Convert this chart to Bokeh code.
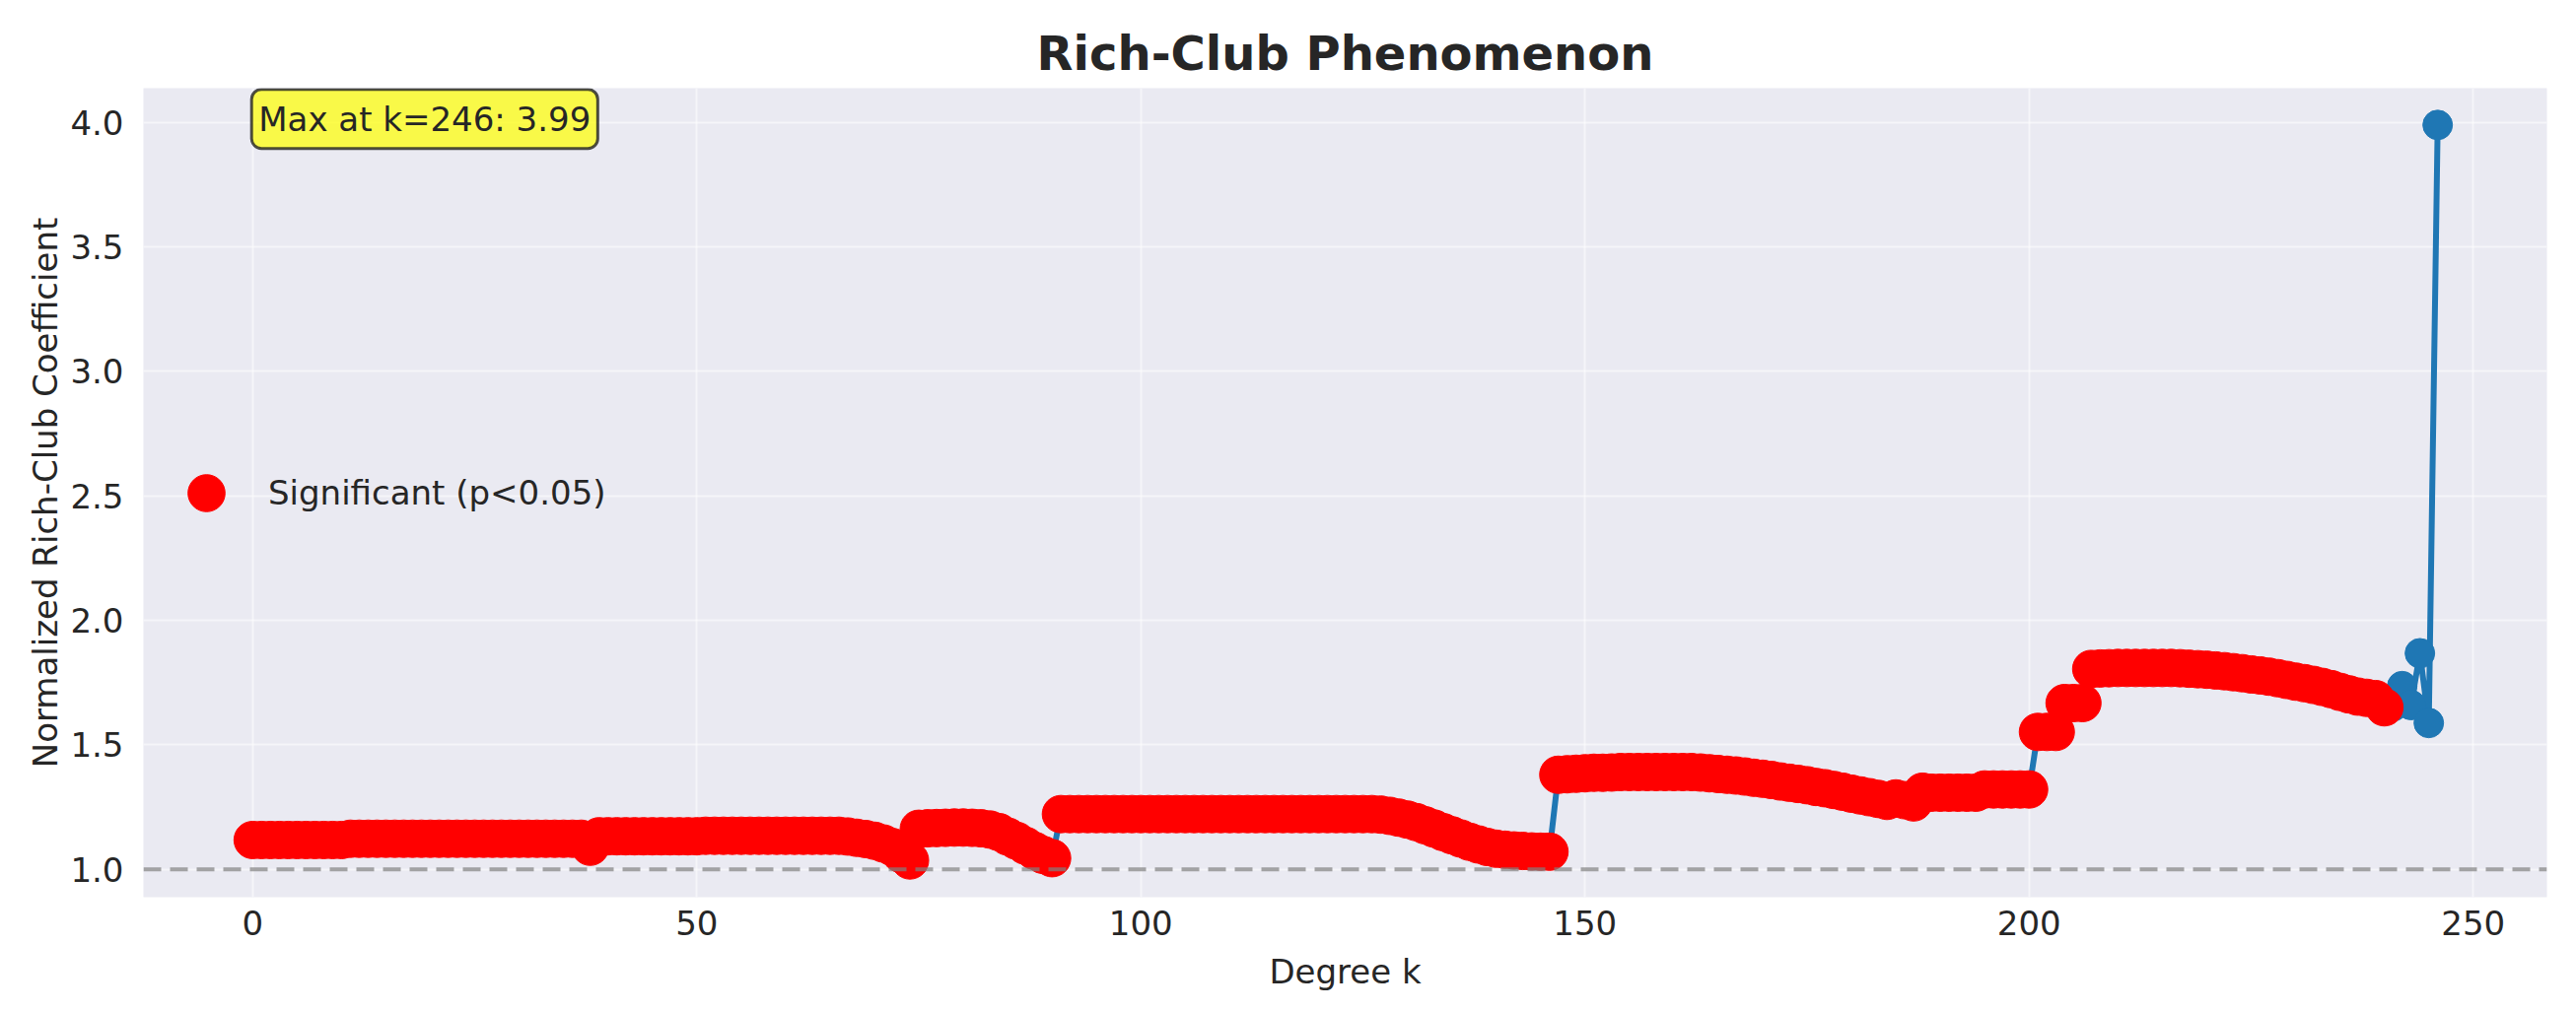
from bokeh.plotting import figure
from bokeh.models import (Range1d, Span, Label, Legend, LegendItem, FixedTicker,
                          PrintfTickFormatter, ColumnDataSource)
from bokeh.embed import file_html
from bokeh.resources import INLINE

# ---------------- data ----------------
degree_k = list(range(247))

rich_club_norm = [
    # k 0-10
    1.118, 1.118, 1.118, 1.118, 1.118, 1.118, 1.118, 1.118, 1.118, 1.118, 1.118,
    # k 11-37
    1.123, 1.123, 1.123, 1.123, 1.123, 1.123, 1.123, 1.123, 1.123, 1.123,
    1.123, 1.123, 1.123, 1.123, 1.123, 1.123, 1.123, 1.123, 1.123, 1.123,
    1.123, 1.123, 1.123, 1.123, 1.123, 1.123, 1.123,
    # k 38
    1.091,
    # k 39-50
    1.133, 1.133, 1.133, 1.133, 1.133, 1.133, 1.133, 1.133, 1.133, 1.133, 1.133, 1.133,
    # k 51-66
    1.135, 1.135, 1.135, 1.135, 1.135, 1.135, 1.135, 1.135,
    1.135, 1.135, 1.135, 1.135, 1.135, 1.135, 1.135, 1.135,
    # k 67-74
    1.132, 1.127, 1.122, 1.115, 1.104, 1.090, 1.062, 1.036,
    # k 75-90
    1.163, 1.165, 1.166, 1.167, 1.168, 1.168, 1.167, 1.165,
    1.160, 1.150, 1.132, 1.115, 1.095, 1.075, 1.058, 1.045,
    # k 91-125
    1.222, 1.222, 1.222, 1.222, 1.222, 1.222, 1.222, 1.222, 1.222, 1.222,
    1.222, 1.222, 1.222, 1.222, 1.222, 1.222, 1.222, 1.222, 1.222, 1.222,
    1.222, 1.222, 1.222, 1.222, 1.222, 1.222, 1.222, 1.222, 1.222, 1.222,
    1.222, 1.222, 1.222, 1.222, 1.222,
    # k 126-146
    1.222, 1.220, 1.215, 1.208, 1.200, 1.190, 1.177, 1.164, 1.150, 1.137,
    1.124, 1.111, 1.100, 1.090, 1.083, 1.079, 1.076, 1.074, 1.072, 1.071, 1.071,
    # k 147-153
    1.380, 1.382, 1.384, 1.386, 1.388, 1.388, 1.389,
    # k 154-162
    1.391, 1.391, 1.391, 1.391, 1.391, 1.391, 1.391, 1.391, 1.391,
    # k 163-188
    1.389, 1.386, 1.383, 1.380, 1.377, 1.373, 1.368, 1.364, 1.359, 1.353,
    1.348, 1.343, 1.338, 1.331, 1.326, 1.319, 1.312, 1.304, 1.297, 1.290,
    1.283, 1.275, 1.285, 1.278, 1.269, 1.312,
    # k 189-194
    1.308, 1.308, 1.308, 1.308, 1.308, 1.308,
    # k 195-200
    1.321, 1.321, 1.321, 1.321, 1.321, 1.321,
    # k 201-206
    1.552, 1.552, 1.552, 1.668, 1.668, 1.668,
    # k 207-216
    1.805, 1.807, 1.808, 1.809, 1.809, 1.809, 1.809, 1.809, 1.809, 1.809,
    # k 217-240
    1.808, 1.806, 1.804, 1.802, 1.799, 1.796, 1.792, 1.788, 1.783, 1.779,
    1.774, 1.768, 1.761, 1.754, 1.748, 1.741, 1.733, 1.724, 1.713, 1.703,
    1.694, 1.689, 1.684, 1.651,
    # k 241-246
    1.655, 1.736, 1.660, 1.868, 1.588, 3.99,
]

last_significant_k = 240
significant = [k <= last_significant_k for k in degree_k]

x_ticks = [0, 50, 100, 150, 200, 250]
y_ticks = [1.0, 1.5, 2.0, 2.5, 3.0, 3.5, 4.0]
reference_level = 1.0

title_text = "Rich-Club Phenomenon"
x_label = "Degree k"
y_label = "Normalized Rich-Club Coefficient"
legend_label = "Significant (p<0.05)"

# ---------------- derived ----------------
sig_k = [k for k, s in zip(degree_k, significant) if s]
sig_v = [v for v, s in zip(rich_club_norm, significant) if s]

i_max = max(range(len(rich_club_norm)), key=lambda i: rich_club_norm[i])
k_max = degree_k[i_max]
v_max = rich_club_norm[i_max]

x0, x1 = min(degree_k), max(degree_k)
y0, y1 = min(rich_club_norm), max(rich_club_norm)
xpad = 0.05 * (x1 - x0)
ypad = 0.05 * (y1 - y0)
xr = (x0 - xpad, x1 + xpad)
yr = (y0 - ypad, y1 + ypad)

FONT = "DejaVu Sans"
TXT = "#262626"

p = figure(width=2613, height=1026, output_backend="svg", toolbar_location=None,
           x_range=Range1d(*xr), y_range=Range1d(*yr),
           min_border_left=145, min_border_right=30, min_border_top=89,
           min_border_bottom=116)

p.background_fill_color = "#eaeaf2"
p.border_fill_color = "white"
p.outline_line_color = None

p.title.text = title_text
p.title.text_font = FONT
p.title.text_font_size = "48px"
p.title.text_font_style = "bold"
p.title.text_color = TXT
p.title.align = "center"
p.title.standoff = 16

p.xaxis.ticker = FixedTicker(ticks=x_ticks)
p.yaxis.ticker = FixedTicker(ticks=y_ticks)
p.yaxis.formatter = PrintfTickFormatter(format="%.1f")
p.xaxis.axis_label = x_label
p.yaxis.axis_label = y_label

for ax in (p.xaxis, p.yaxis):
    ax.axis_line_color = None
    ax.major_tick_line_color = None
    ax.minor_tick_line_color = None
    ax.major_label_text_font = FONT
    ax.major_label_text_font_size = "34px"
    ax.major_label_text_color = TXT
    ax.axis_label_text_font = FONT
    ax.axis_label_text_font_size = "34px"
    ax.axis_label_text_font_style = "normal"
    ax.axis_label_text_color = TXT
p.xaxis.major_label_standoff = 7
p.yaxis.major_label_standoff = 14
p.xaxis.axis_label_standoff = 14
p.yaxis.axis_label_standoff = 2

p.grid.grid_line_color = "white"
p.grid.grid_line_width = 2
p.grid.grid_line_alpha = 0.5

src = ColumnDataSource(data=dict(k=degree_k, v=rich_club_norm))
sig_src = ColumnDataSource(data=dict(k=sig_k, v=sig_v))

p.add_layout(Span(location=reference_level, dimension="width", line_color="gray",
                  line_alpha=0.7, line_dash="18 9", line_width=4))

p.line("k", "v", source=src, line_color="#1f77b4", line_width=6)
p.scatter("k", "v", source=src, size=30, marker="circle",
          fill_color="#1f77b4", line_color="#1f77b4")
sig_r = p.scatter("k", "v", source=sig_src, size=38, marker="circle",
                  fill_color="red", line_color="red")

legend = Legend(items=[LegendItem(label=legend_label, renderers=[sig_r])],
                location="left", margin=17, padding=0,
                glyph_width=94, glyph_height=94, label_standoff=16,
                label_text_font=FONT, label_text_font_size="34px",
                label_text_color=TXT, border_line_color=None,
                background_fill_alpha=0)
p.add_layout(legend)

ann = Label(x=xr[0] + 0.045 * (xr[1] - xr[0]),
            y=yr[0] + 0.962 * (yr[1] - yr[0]),
            text=f"Max at k={k_max}: {v_max:.2f}",
            text_font=FONT, text_font_size="34px", text_color=TXT,
            text_baseline="middle", text_align="left",
            background_fill_color="yellow", background_fill_alpha=0.7,
            border_line_color="#222222", border_line_alpha=0.8, border_line_width=3,
            padding=(7, 10), border_radius=10)
p.add_layout(ann)

open("out.html", "w").write(file_html(p, INLINE))
